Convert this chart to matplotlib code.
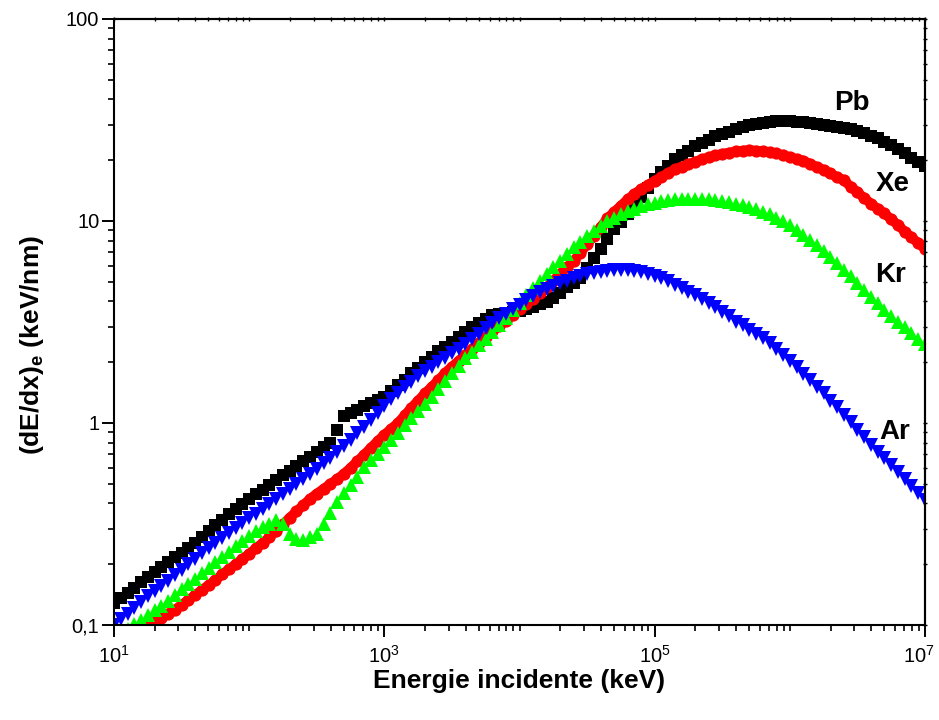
import numpy as np
import matplotlib
matplotlib.use("Agg")
import matplotlib.pyplot as plt
import matplotlib.transforms as mtransforms
from matplotlib.ticker import LogLocator, FixedLocator, FixedFormatter, NullFormatter

plt.rcParams['font.family'] = ['Liberation Sans', 'DejaVu Sans']
plt.rcParams['mathtext.fontset'] = 'custom'
plt.rcParams['mathtext.rm'] = 'Liberation Sans'
plt.rcParams['mathtext.it'] = 'Liberation Sans:italic'
plt.rcParams['mathtext.bf'] = 'Liberation Sans:bold'

# incident energy (keV), 20 samples per decade from 10 keV to 10 GeV
energy = np.logspace(1, 7, 121)

# electronic stopping (keV/nm)
pb = [0.128, 0.136, 0.144, 0.153, 0.163, 0.173,
      0.183, 0.194, 0.205, 0.216, 0.228, 0.241,
      0.256, 0.274, 0.292, 0.311, 0.331, 0.353, 0.376,
      0.398, 0.420, 0.444, 0.468, 0.494, 0.521, 0.551, 0.581,
      0.612, 0.647, 0.682, 0.719, 0.759, 0.800,
      0.927, 1.08,
      1.12, 1.16, 1.21, 1.25, 1.30, 1.35,
      1.44, 1.54, 1.64,
      1.76, 1.88, 2.01, 2.13, 2.26,
      2.39, 2.53, 2.68,
      2.83, 2.98, 3.13,
      3.29, 3.42, 3.47, 3.51, 3.55, 3.59,
      3.66, 3.76, 3.87, 3.99,
      4.14, 4.42, 4.70, 4.93,
      5.25, 5.86, 6.55, 7.29, 8.15, 9.10,
      9.93, 10.8, 11.8, 13.1, 14.5, 16.1,
      17.4, 18.8, 20.2, 21.2, 22.3, 23.4,
      24.4, 25.3, 26.3, 27.0, 27.7, 28.5,
      29.2, 29.8, 30.3, 30.7, 31.0, 31.1, 31.2,
      31.1, 31.0, 30.8, 30.5, 30.3, 29.9, 29.6,
      29.2, 28.8, 28.4, 27.9, 27.2, 26.5,
      25.7, 24.7, 23.8, 22.8, 21.6, 20.6, 19.5, 18.8]

xe = [0.0724, 0.0769, 0.0817, 0.0867, 0.0920, 0.0977, 0.103, 0.108, 0.114, 0.119,
      0.126, 0.133, 0.141, 0.149, 0.158, 0.167, 0.178, 0.189, 0.200, 0.212,
      0.225, 0.240, 0.255, 0.272, 0.292, 0.315, 0.340, 0.365, 0.392, 0.421,
      0.447, 0.472, 0.499, 0.527, 0.560, 0.600, 0.646, 0.697, 0.753, 0.813,
      0.875, 0.935, 1.00, 1.09, 1.19, 1.29, 1.40, 1.51, 1.63, 1.77,
      1.90, 2.03, 2.18, 2.33, 2.50, 2.67, 2.84, 3.02, 3.21, 3.43,
      3.66, 3.88, 4.13, 4.38, 4.70, 5.07, 5.47, 5.90, 6.35, 6.95,
      7.66, 8.45, 9.33, 10.3, 11.1, 11.9, 12.8, 13.6, 14.4, 15.1,
      15.8, 16.5, 17.3, 18.0, 18.6, 19.1, 19.7, 20.2, 20.7, 21.1,
      21.5, 21.8, 22.1, 22.3, 22.4, 22.3, 22.2, 21.9, 21.6, 21.2,
      20.7, 20.3, 19.9, 19.2, 18.5, 17.9, 17.2, 16.5, 15.9, 14.8,
      13.9, 13.0, 12.2, 11.5, 10.9, 10.2, 9.55, 8.87, 8.30, 7.78,
      7.28]

kr = [0.0841, 0.0895, 0.0953, 0.101, 0.106, 0.112, 0.118, 0.124, 0.132, 0.141,
      0.150, 0.160, 0.169, 0.180, 0.192, 0.204, 0.217, 0.230, 0.245, 0.260,
      0.276, 0.292, 0.305, 0.318, 0.330, 0.316, 0.282, 0.266, 0.264, 0.272,
      0.283, 0.316, 0.359, 0.407, 0.449, 0.492, 0.542, 0.603, 0.653, 0.706,
      0.764, 0.826, 0.895, 0.973, 1.06, 1.15, 1.24, 1.35, 1.48, 1.61,
      1.76, 1.92, 2.09, 2.25, 2.43, 2.62, 2.83, 3.05, 3.32, 3.61,
      3.94, 4.29, 4.66, 5.04, 5.45, 5.89, 6.37, 6.89, 7.40, 7.89,
      8.39, 8.91, 9.44, 9.95, 10.4, 10.8, 11.2, 11.5, 11.8, 12.1,
      12.3, 12.5, 12.7, 12.8, 12.9, 12.9, 12.9, 12.9, 12.8, 12.7,
      12.6, 12.4, 12.2, 12.0, 11.7, 11.5, 11.1, 10.8, 10.4, 9.98,
      9.53, 9.06, 8.55, 8.05, 7.57, 7.08, 6.62, 6.18, 5.75, 5.33,
      4.94, 4.57, 4.22, 3.91, 3.64, 3.40, 3.18, 2.99, 2.80, 2.62,
      2.45]

ar = [0.100, 0.107, 0.114, 0.122, 0.130, 0.139, 0.147, 0.156, 0.166, 0.177,
      0.187, 0.200, 0.212, 0.226, 0.240, 0.255, 0.270, 0.286, 0.303, 0.319,
      0.337, 0.355, 0.375, 0.397, 0.421, 0.446, 0.472, 0.500, 0.530, 0.561,
      0.594, 0.631, 0.673, 0.719, 0.769, 0.826, 0.889, 0.959, 1.04, 1.12,
      1.21, 1.31, 1.41, 1.51, 1.60, 1.70, 1.80, 1.90, 2.00, 2.10,
      2.21, 2.33, 2.47, 2.61, 2.77, 2.94, 3.12, 3.30, 3.48, 3.67,
      3.86, 4.06, 4.25, 4.43, 4.60, 4.76, 4.92, 5.07, 5.21, 5.33,
      5.45, 5.55, 5.62, 5.68, 5.71, 5.73, 5.71, 5.66, 5.58, 5.48,
      5.36, 5.20, 5.02, 4.84, 4.66, 4.47, 4.29, 4.10, 3.93, 3.74,
      3.56, 3.37, 3.18, 3.04, 2.90, 2.77, 2.64, 2.49, 2.33, 2.17,
      2.02, 1.89, 1.75, 1.63, 1.51, 1.40, 1.29, 1.20, 1.10, 1.01,
      0.927, 0.849, 0.780, 0.721, 0.668, 0.619, 0.575, 0.531, 0.490, 0.452,
      0.417]

ytick_vals = [0.1, 1, 10, 100]
ytick_text = ['0,1', '1', '10', '100']

fig = plt.figure(figsize=(9.39, 7.2), dpi=100)
ax = fig.add_axes([114 / 939, 95 / 720, 811 / 939, 606 / 720])

# curves, Pb first so Ar ends up on top
ax.plot(energy, pb, ls='none', marker='s', ms=8.3, mew=0, color='#000000')
ax.plot(energy, xe, ls='-', lw=7, marker='o', ms=8.8, mew=0, color='#ff0000')
ax.plot(energy, kr, ls='none', marker='^', ms=10, mew=0, color='#00ff00')
ax.plot(energy, ar, ls='none', marker='v', ms=10, mew=0, color='#0000ff')

ax.set_xscale('log')
ax.set_yscale('log')
ax.set_xlim(10, 1e7)
ax.set_ylim(0.1, 100)

# curve names
lab = dict(fontsize=20, fontweight='bold', ha='center', va='center')
ax.text(2.9e6, 38.5, 'Pb', **lab)
ax.text(5.8e6, 15.2, 'Xe', **lab)
ax.text(5.6e6, 5.4, 'Kr', **lab)
ax.text(6.0e6, 0.90, 'Ar', **lab)

# ticks
ax.xaxis.set_major_locator(FixedLocator([1e1, 1e3, 1e5, 1e7]))
ax.xaxis.set_minor_locator(LogLocator(base=10, subs=np.arange(1, 10), numticks=20))
ax.xaxis.set_minor_formatter(NullFormatter())
ax.yaxis.set_major_locator(FixedLocator(ytick_vals))
ax.yaxis.set_major_formatter(FixedFormatter(ytick_text))
ax.yaxis.set_minor_locator(LogLocator(base=10, subs=np.arange(2, 10), numticks=20))
ax.yaxis.set_minor_formatter(NullFormatter())

ax.tick_params(which='major', direction='out', length=8.6, width=1.4, labelsize=14.5)
ax.tick_params(which='minor', direction='out', length=4.3, width=1.2)
ax.tick_params(axis='x', which='major', pad=6)
ax.tick_params(axis='y', which='major', pad=2)

for s in ax.spines.values():
    s.set_linewidth(1.5)

# small mirrored ticks on top and right
top = ax.secondary_xaxis('top', functions=(lambda v: v, lambda v: v))
top.set_xscale('log')
top.xaxis.set_major_locator(FixedLocator([1e1, 1e2, 1e3, 1e4, 1e5, 1e6, 1e7]))
top.xaxis.set_minor_locator(LogLocator(base=10, subs=np.arange(2, 10), numticks=20))
top.tick_params(which='both', direction='inout', length=3, width=1.0, labeltop=False)
top.xaxis.set_minor_formatter(NullFormatter())
top.spines['top'].set_linewidth(1.5)

right = ax.secondary_yaxis('right', functions=(lambda v: v, lambda v: v))
right.set_yscale('log')
right.yaxis.set_major_locator(FixedLocator(ytick_vals))
right.yaxis.set_minor_locator(LogLocator(base=10, subs=np.arange(2, 10), numticks=20))
right.tick_params(which='both', direction='inout', length=3, width=1.0, labelright=False)
right.yaxis.set_minor_formatter(NullFormatter())
right.spines['right'].set_linewidth(1.5)

ax.set_xlabel('Energie incidente (keV)', fontsize=19, fontweight='bold')
ax.xaxis.set_label_coords(0.5, -0.092)
ax.xaxis.label.set_va('center')
ax.set_ylabel(r'(dE/dx)$_{\mathbf{e}}$ (keV/nm)', fontsize=19, fontweight='bold')
ax.yaxis.set_label_coords(-0.084, 0.462)

# keep the 10^7 label inside the figure
fig.canvas.draw()
last = ax.get_xticklabels()[-1]
last.set_transform(last.get_transform() + mtransforms.ScaledTranslation(-6 / 100, 0, fig.dpi_scale_trans))

fig.savefig('out.png', dpi=100)
